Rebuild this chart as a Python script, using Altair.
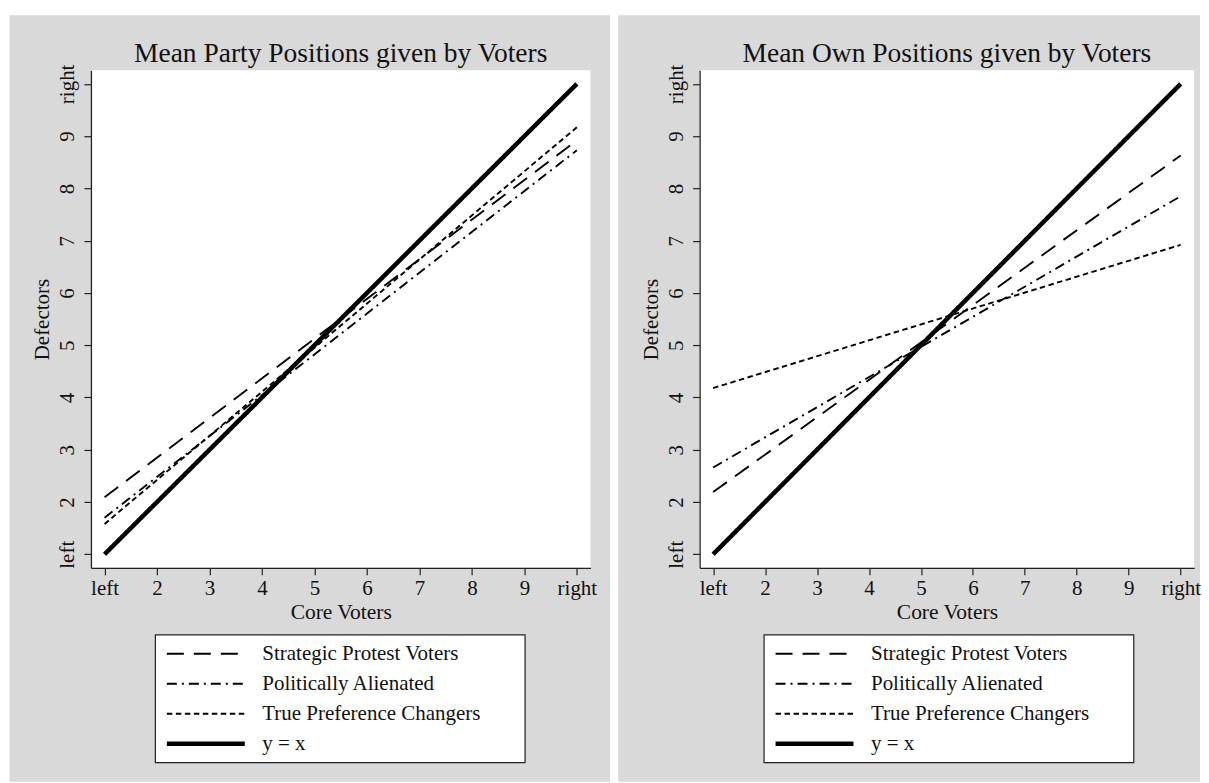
import altair as alt
import pandas as pd

# ---- data ----
series = ["Strategic Protest Voters", "Politically Alienated", "True Preference Changers", "y = x"]
core_ends = [1, 10]
party_start = [2.09, 1.70, 1.58, 1.0]
party_end = [8.92, 8.73, 9.17, 10.0]
own_start = [2.19, 2.66, 4.18, 1.0]
own_end = [8.63, 7.85, 6.92, 10.0]
tick_values = [1, 2, 3, 4, 5, 6, 7, 8, 9, 10]
panel_titles = ["Mean Party Positions given by Voters", "Mean Own Positions given by Voters"]
x_title = "Core Voters"
y_title = "Defectors"

# ---- style ----
dash_range = [[17, 10], [10, 5, 2, 5], [5.5, 3.5], [1, 0]]
width_range = [1.9, 1.9, 1.9, 4.5]
GREY = "#d9d9d9"
INK = "#111111"
FONT = "Liberation Serif"
H = 498
DOMAIN = [0.74, 10.26]


def make_df(starts, ends):
    rows = []
    for s, a, b in zip(series, starts, ends):
        rows.append({"series": s, "core": core_ends[0], "defect": a})
        rows.append({"series": s, "core": core_ends[1], "defect": b})
    return pd.DataFrame(rows)


label_expr = "datum.value == 1 ? 'left' : (datum.value == 10 ? 'right' : datum.label)"


def panel(title, starts, ends, W, grey_right):
    one = pd.DataFrame({"k": [0]})
    bg = alt.Chart(one).mark_rect(fill=GREY).encode(
        x=alt.value(-81.5), x2=alt.value(grey_right), y=alt.value(-55), y2=alt.value(712)
    )
    plot_bg = alt.Chart(one).mark_rect(fill="white").encode(
        x=alt.value(0), x2=alt.value(W), y=alt.value(0), y2=alt.value(H)
    )
    legend_box = alt.Chart(one).mark_rect(fill="white", stroke="#222222", strokeWidth=1.2).encode(
        x=alt.value(64.5), x2=alt.value(434.5), y=alt.value(565), y2=alt.value(693)
    )
    ttl = alt.Chart(one).mark_text(
        font=FONT, fontSize=27.5, baseline="alphabetic", align="center", color=INK
    ).encode(x=alt.value(W / 2), y=alt.value(-8), text=alt.value(title))

    xaxis = alt.Axis(
        values=tick_values, labelExpr=label_expr, title=x_title, grid=False,
        domainColor="#222222", domainWidth=1.3, tickColor="#222222", tickWidth=1.2, tickSize=7,
        labelFont=FONT, labelFontSize=21, labelColor=INK, labelBaseline="alphabetic",
        labelPadding=19.5, labelFlush=False, labelOverlap=False,
        titleFont=FONT, titleFontSize=21.5, titleFontWeight="normal", titleColor=INK,
        titleX=W / 2, titleY=50.5, titleBaseline="alphabetic", titleAlign="center", zindex=1,
    )
    yaxis = alt.Axis(
        values=tick_values, labelExpr=label_expr, title=y_title, grid=False,
        domainColor="#222222", domainWidth=1.3, tickColor="#222222", tickWidth=1.2, tickSize=7,
        labelFont=FONT, labelFontSize=21, labelColor=INK, labelAngle=270,
        labelAlign="center", labelBaseline="alphabetic", labelPadding=10.5,
        labelFlush=False, labelOverlap=False,
        titleFont=FONT, titleFontSize=21, titleFontWeight="normal", titleColor=INK,
        titleAngle=270, titleX=-48.5, titleY=H / 2, titleBaseline="middle", titleAlign="center",
        zindex=1,
    )
    legend = alt.Legend(
        orient="none", legendX=73.5, legendY=569, symbolType="stroke", symbolSize=6084,
        symbolStrokeColor="black", labelFont=FONT, labelFontSize=21, labelColor=INK,
        labelOffset=15, padding=0, rowPadding=0, clipHeight=30, labelLimit=400,
    )
    lines = alt.Chart(make_df(starts, ends)).mark_line(color="black", strokeCap="butt").encode(
        x=alt.X("core:Q", scale=alt.Scale(domain=DOMAIN, nice=False, zero=False), axis=xaxis),
        y=alt.Y("defect:Q", scale=alt.Scale(domain=DOMAIN, nice=False, zero=False), axis=yaxis),
        strokeDash=alt.StrokeDash("series:N", title=None,
                                  scale=alt.Scale(domain=series, range=dash_range), legend=legend),
        strokeWidth=alt.StrokeWidth("series:N", title=None,
                                    scale=alt.Scale(type="ordinal", domain=series, range=width_range),
                                    legend=legend),
    )
    return alt.layer(bg, plot_bg, legend_box, ttl, lines).properties(width=W, height=H)


left = panel(panel_titles[0], party_start, party_end, 500, 519.5)
right = panel(panel_titles[1], own_start, own_end, 495, 500.8)

chart = alt.hconcat(left, right, spacing=109.2, bounds="flush").resolve_scale(
    strokeDash="independent", strokeWidth="independent"
).resolve_legend(
    strokeDash="independent", strokeWidth="independent"
).properties(
    padding={"left": 1, "top": 7, "right": 0, "bottom": 0}, background="white"
).configure_view(stroke=None)

chart.save("out.html", embed_options={"renderer": "svg", "actions": False})
